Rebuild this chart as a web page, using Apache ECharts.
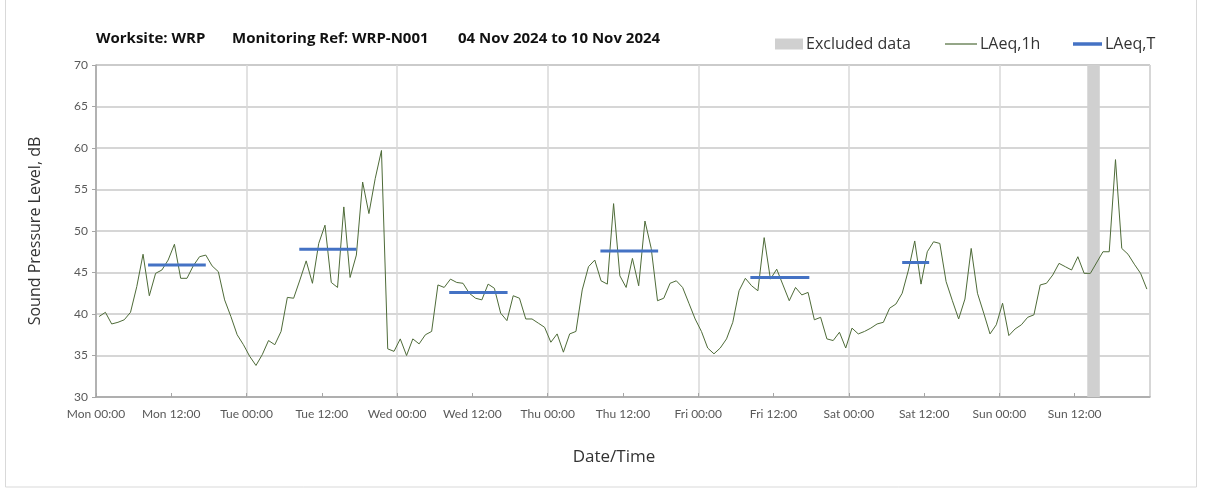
<!DOCTYPE html>
<html>
<head>
<meta charset="utf-8">
<script src="https://cdn.jsdelivr.net/npm/echarts@6/dist/echarts.min.js"></script>
<style>
  html, body { margin: 0; padding: 0; background: #fff; }
  #chart { width: 1208px; height: 492px; }
</style>
</head>
<body>
<div id="chart"></div>
<script>
  // hourly LAeq,1h values, Mon 00:00 .. Sun 23:00 (null = excluded)
  const laeq1h = [
    39.7, 40.2, 38.8, 39.0, 39.3, 40.2, 43.3, 47.2, 42.2, 44.9, 45.3, 46.5,
    48.4, 44.3, 44.3, 45.8, 46.9, 47.1, 45.8, 45.1, 41.7, 39.7, 37.5, 36.3,
    34.9, 33.8, 35.1, 36.8, 36.3, 37.9, 42.0, 41.9, 44.1, 46.4, 43.7, 48.5,
    50.7, 43.8, 43.2, 52.9, 44.4, 47.1, 55.9, 52.1, 56.3, 59.7, 35.8, 35.5,
    37.0, 35.0, 37.0, 36.4, 37.5, 37.9, 43.5, 43.2, 44.2, 43.8, 43.7, 42.5,
    41.9, 41.7, 43.6, 43.1, 40.1, 39.2, 42.2, 41.9, 39.4, 39.4, 38.9, 38.4,
    36.6, 37.6, 35.4, 37.6, 37.9, 42.9, 45.7, 46.5, 44.0, 43.6, 53.3, 44.6,
    43.2, 46.7, 43.4, 51.2, 47.9, 41.6, 41.9, 43.7, 44.0, 43.2, 41.3, 39.4,
    37.9, 35.9, 35.2, 35.9, 37.0, 39.0, 42.8, 44.3, 43.4, 42.8, 49.2, 44.2,
    45.4, 43.5, 41.6, 43.2, 42.3, 42.6, 39.3, 39.6, 37.0, 36.8, 37.8, 35.9,
    38.3, 37.6, 37.9, 38.3, 38.8, 39.0, 40.7, 41.2, 42.5, 45.3, 48.8, 43.6,
    47.5, 48.7, 48.5, 43.9, 41.6, 39.4, 41.8, 47.9, 42.5, 40.1, 37.6, 38.7,
    41.3, 37.4, 38.2, 38.7, 39.6, 39.9, 43.5, 43.7, 44.7, 46.1, 45.7, 45.3,
    46.9, 44.9, 44.9, null, 47.5, 47.5, 58.6, 47.9, 47.2, 46.0, 44.9, 43.0
  ]

  // LAeq,T daytime periods (hours from Mon 00:00)
  const ltStart = [8.3, 32.4, 56.3, 80.4, 104.3, 128.5]
  const ltEnd = [17.5, 41.5, 65.6, 89.6, 113.7, 132.8]
  const ltValue = [45.9, 47.8, 42.6, 47.6, 44.4, 46.2]

  // excluded periods (hours from Mon 00:00)
  const excludedStart = [158]
  const excludedEnd = [160]

  const dayNames = ['Mon', 'Tue', 'Wed', 'Thu', 'Fri', 'Sat', 'Sun']
  const yTicks = [30, 35, 40, 45, 50, 55, 60, 65, 70]

  const font = 'Lato, "Open Sans", sans-serif'
  const textFont = '"Open Sans", sans-serif'
  const labelColor = '#595959'

  const hourlyData = laeq1h.map((v, i) => [i + 0.5, v])
  const ltData = []
  ltValue.forEach((v, i) => {
    ltData.push([ltStart[i], v], [ltEnd[i], v], [ltEnd[i], '-'])
  })
  const excludedAreas = excludedStart.map((s, i) => [{xAxis: s}, {xAxis: excludedEnd[i]}])

  function timeLabel (value) {
    if (value >= 168) return ''
    const day = dayNames[Math.floor(value / 24)]
    const hour = value % 24
    return day + ' ' + (hour < 10 ? '0' + hour : hour) + ':00'
  }

  const chart = echarts.init(document.getElementById('chart'))
  chart.setOption({
    backgroundColor: '#fff',
    animation: false,
    title: [
      {text: 'Worksite: WRP', left: 91, top: 26},
      {text: 'Monitoring Ref: WRP-N001', left: 227, top: 26},
      {text: '04 Nov 2024 to 10 Nov 2024', left: 453, top: 26}
    ].map(t => Object.assign(t, {
      textStyle: {fontFamily: textFont, fontSize: 15, fontWeight: 'bold', color: '#111'}
    })),
    graphic: [{
      type: 'rect',
      silent: true,
      shape: {x: 5.5, y: -2, width: 1191, height: 489},
      style: {fill: 'none', stroke: '#d9d9d9', lineWidth: 1}
    }],
    legend: [
      {data: ['Excluded data'], left: 770, itemWidth: 28, itemHeight: 11},
      {data: ['LAeq,1h'], left: 940, itemWidth: 32, itemHeight: 1.2},
      {data: ['LAeq,T'], left: 1068, itemWidth: 29, itemHeight: 3.5}
    ].map(l => Object.assign(l, {
      top: 31,
      itemGap: 0,
      icon: 'rect',
      textStyle: {fontFamily: textFont, fontSize: 16, color: '#333', padding: [0, 0, 0, -2]}
    })),
    grid: {
      left: 96,
      right: 58,
      top: 65,
      bottom: 95,
      show: true,
      borderColor: '#a6a6a6',
      borderWidth: 1
    },
    xAxis: [{
      type: 'value',
      min: 0,
      max: 168,
      interval: 12,
      name: 'Date/Time',
      nameLocation: 'middle',
      nameGap: 52,
      nameTextStyle: {fontFamily: textFont, fontSize: 17, color: '#333', padding: [0, 18, 0, 0]},
      axisLine: {show: true, lineStyle: {color: '#a6a6a6', width: 1.5}},
      axisTick: {show: true, inside: true, length: 4, lineStyle: {color: '#a6a6a6'}},
      axisLabel: {
        formatter: timeLabel,
        fontFamily: font,
        fontSize: 12,
        color: labelColor,
        margin: 11,
        showMaxLabel: false
      },
      splitLine: {show: false}
    }, {
      type: 'value',
      min: 0,
      max: 168,
      interval: 24,
      position: 'bottom',
      axisLine: {show: false},
      axisTick: {show: false},
      axisLabel: {show: false},
      splitLine: {show: true, lineStyle: {color: '#d9d9d9', width: 1.5}}
    }],
    yAxis: {
      type: 'value',
      min: yTicks[0],
      max: yTicks[yTicks.length - 1],
      interval: yTicks[1] - yTicks[0],
      name: 'Sound Pressure Level, dB',
      nameLocation: 'middle',
      nameGap: 53,
      nameTextStyle: {fontFamily: textFont, fontSize: 16, color: '#333'},
      axisLine: {show: true, lineStyle: {color: '#a6a6a6', width: 1.5}},
      axisTick: {show: true, length: 4, lineStyle: {color: '#a6a6a6'}},
      axisLabel: {fontFamily: font, fontSize: 12, color: labelColor, margin: 8},
      splitLine: {lineStyle: {color: '#c8c8c8', width: 1.5}}
    },
    series: [
      {
        name: 'Excluded data',
        type: 'line',
        data: [],
        itemStyle: {color: '#d0d0d0'},
        markArea: {
          silent: true,
          itemStyle: {color: '#d0d0d0'},
          data: excludedAreas
        }
      },
      {
        name: 'LAeq,1h',
        type: 'line',
        data: hourlyData,
        showSymbol: false,
        symbol: 'none',
        connectNulls: true,
        itemStyle: {color: '#4e6b38'},
        lineStyle: {color: '#4e6b38', width: 1},
        z: 3
      },
      {
        name: 'LAeq,T',
        type: 'line',
        data: ltData,
        showSymbol: false,
        symbol: 'none',
        itemStyle: {color: '#4472c4'},
        lineStyle: {color: '#4472c4', width: 3},
        z: 4
      }
    ]
  })
</script>
</body>
</html>
